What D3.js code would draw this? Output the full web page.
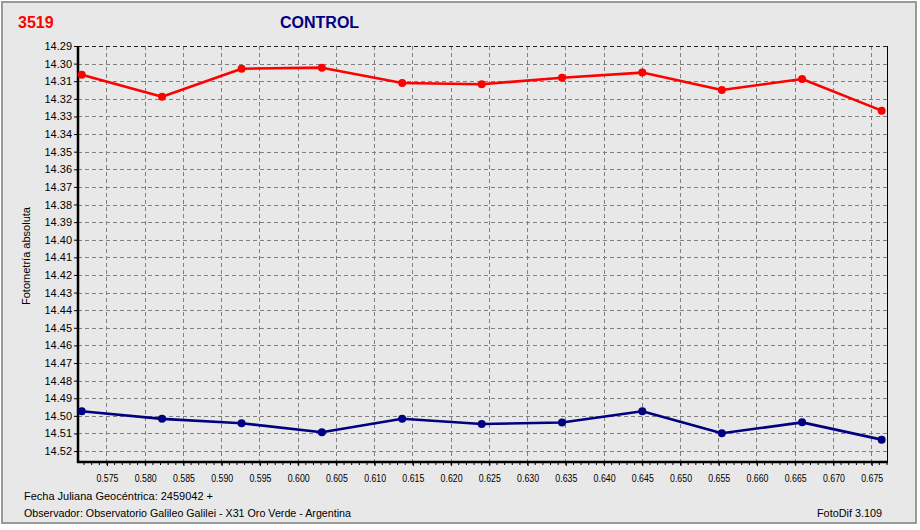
<!DOCTYPE html>
<html>
<head>
<meta charset="utf-8">
<script src="https://cdn.jsdelivr.net/npm/d3@7"></script>
<style>
html,body{margin:0;padding:0;background:#ffffff;}
svg{display:block;}
text{font-family:Arial,"Liberation Sans",sans-serif;}
</style>
</head>
<body>
<svg id="chart" width="920" height="530"></svg>
<script>
// ---- data ----
const jdFraction = [0.5717, 0.5822, 0.5926, 0.6031, 0.6136, 0.6240, 0.6345, 0.6450, 0.6554, 0.6659, 0.6763];
const targetMag  = [14.3063, 14.3188, 14.3029, 14.3023, 14.3110, 14.3117, 14.3080, 14.3051, 14.3150, 14.3087, 14.3267];
const controlMag = [14.4974, 14.5017, 14.5042, 14.5093, 14.5016, 14.5046, 14.5038, 14.4974, 14.5099, 14.5037, 14.5135];
const xTickValues = [0.575, 0.580, 0.585, 0.590, 0.595, 0.600, 0.605, 0.610, 0.615, 0.620, 0.625, 0.630, 0.635, 0.640, 0.645, 0.650, 0.655, 0.660, 0.665, 0.670, 0.675];
const yTickValues = [14.29, 14.30, 14.31, 14.32, 14.33, 14.34, 14.35, 14.36, 14.37, 14.38, 14.39, 14.40, 14.41, 14.42, 14.43, 14.44, 14.45, 14.46, 14.47, 14.48, 14.49, 14.50, 14.51, 14.52];
const titleLeft = "3519";
const titleMain = "CONTROL";
const yTitle = "Fotometría absoluta";
const footer1 = "Fecha Juliana Geocéntrica: 2459042 +";
const footer2 = "Observador: Observatorio Galileo Galilei - X31 Oro Verde - Argentina";
const footerRight = "FotoDif 3.109";

// ---- layout ----
const svg = d3.select("#chart");
const L = 78, R = 887, T = 46, B = 462;
const x = d3.scaleLinear().domain([0.57121, 0.67700]).range([L, R]);
const y = d3.scaleLinear().domain([14.29, 14.5262]).range([T, B]);

// frame
svg.append("rect").attr("x", 2).attr("y", 2).attr("width", 914).attr("height", 521)
  .attr("fill", "#e8e8e8").attr("stroke", "#9a9a9a").attr("stroke-width", 2);

// grid
const grid = svg.append("g");
grid.selectAll("line.v").data(xTickValues).join("line")
  .attr("x1", d => x(d)).attr("x2", d => x(d)).attr("y1", T).attr("y2", B)
  .attr("stroke", "#808080").attr("stroke-width", 1).attr("stroke-dasharray", "4,3")
  .attr("shape-rendering", "crispEdges");
grid.selectAll("line.h").data(yTickValues).join("line")
  .attr("x1", L).attr("x2", R).attr("y1", d => Math.round(y(d)) + 0.5).attr("y2", d => Math.round(y(d)) + 0.5)
  .attr("stroke", (d, i) => i === 0 ? "#202020" : "#808080").attr("stroke-width", 1).attr("stroke-dasharray", "4,3");

// right border
svg.append("line").attr("x1", R + 0.5).attr("x2", R + 0.5).attr("y1", T).attr("y2", B)
  .attr("stroke", "#000").attr("stroke-width", 1);

// x axis
const xAxis = d3.axisBottom(x).tickValues(xTickValues).tickFormat(d3.format(".3f")).tickSize(4).tickPadding(8);
const gx = svg.append("g").attr("transform", `translate(0,${B})`).call(xAxis);
gx.select(".domain").remove();
gx.selectAll("text").attr("font-size", 11).attr("fill", "#000")
  .attr("font-family", "Arial, 'Liberation Sans', sans-serif")
  .attr("textLength", 22).attr("lengthAdjust", "spacingAndGlyphs");
const minor = d3.range(0.572, 0.6771, 0.001);
svg.append("g").selectAll("line").data(minor).join("line")
  .attr("x1", d => x(d)).attr("x2", d => x(d)).attr("y1", B).attr("y2", B + 3)
  .attr("stroke", "#000").attr("stroke-width", 1);
svg.append("line").attr("x1", L - 1).attr("x2", R + 1).attr("y1", B).attr("y2", B)
  .attr("stroke", "#000").attr("stroke-width", 2.5);

// y axis
const yAxis = d3.axisLeft(y).tickValues(yTickValues).tickFormat(d3.format(".2f")).tickSize(4).tickPadding(2);
const gy = svg.append("g").attr("transform", `translate(${L},0)`).call(yAxis);
gy.select(".domain").remove();
gy.selectAll("text").attr("font-size", 11).attr("fill", "#000")
  .attr("font-family", "Arial, 'Liberation Sans', sans-serif");
svg.append("line").attr("x1", L).attr("x2", L).attr("y1", T).attr("y2", B + 1)
  .attr("stroke", "#000").attr("stroke-width", 2.5);

// series
const pts = (vals) => jdFraction.map((d, i) => [d, vals[i]]);
const line = d3.line().x(d => x(d[0])).y(d => y(d[1]));
const series = [
  {vals: targetMag, color: "#ff0000"},
  {vals: controlMag, color: "#000080"}
];
series.forEach(s => {
  const g = svg.append("g");
  g.append("path").datum(pts(s.vals)).attr("d", line)
    .attr("fill", "none").attr("stroke", s.color).attr("stroke-width", 2.6).attr("stroke-linejoin", "round");
  g.selectAll("circle").data(pts(s.vals)).join("circle")
    .attr("cx", d => x(d[0])).attr("cy", d => y(d[1])).attr("r", 4).attr("fill", s.color);
});

// titles
svg.append("text").attr("x", 18).attr("y", 28).text(titleLeft)
  .attr("font-size", 16).attr("font-weight", "bold").attr("fill", "#ff0000");
svg.append("text").attr("x", 280).attr("y", 28).text(titleMain)
  .attr("font-size", 16).attr("font-weight", "bold").attr("fill", "#000080");

svg.append("text").attr("transform", "translate(30,256) rotate(-90)")
  .attr("text-anchor", "middle").text(yTitle)
  .attr("font-size", 11).attr("fill", "#000")
  .attr("textLength", 98).attr("lengthAdjust", "spacingAndGlyphs");

svg.append("text").attr("x", 24).attr("y", 500).text(footer1)
  .attr("font-size", 11).attr("fill", "#000")
  .attr("textLength", 189).attr("lengthAdjust", "spacingAndGlyphs");
svg.append("text").attr("x", 24).attr("y", 517).text(footer2)
  .attr("font-size", 11).attr("fill", "#000")
  .attr("textLength", 327).attr("lengthAdjust", "spacingAndGlyphs");
svg.append("text").attr("x", 817).attr("y", 517).text(footerRight)
  .attr("font-size", 11).attr("fill", "#000")
  .attr("textLength", 65).attr("lengthAdjust", "spacingAndGlyphs");
</script>
</body>
</html>
